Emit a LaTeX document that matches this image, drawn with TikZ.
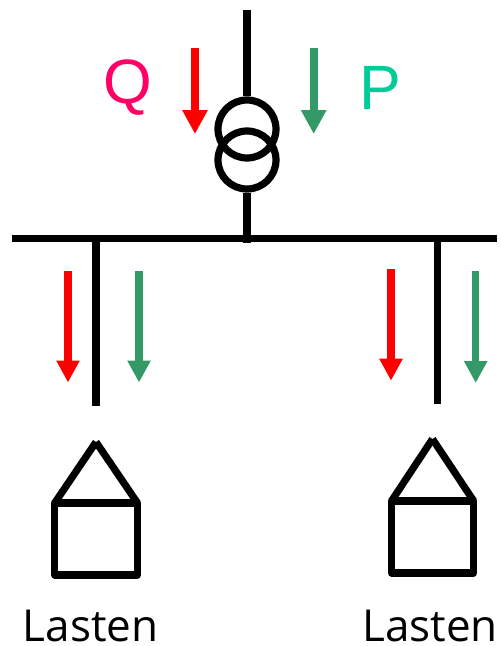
\documentclass[tikz,border=0pt]{standalone}
\usepackage{fontspec}
\setmainfont{Liberation Sans}
\newfontfamily\lastenfont{Open Sans}
\usetikzlibrary{arrows.meta}
\definecolor{qred}{RGB}{255,0,0}
\definecolor{pgreen}{RGB}{51,153,102}
\definecolor{qlabel}{RGB}{255,0,102}
\definecolor{plabel}{RGB}{0,204,153}
\tikzset{
  x=0.75pt,y=-0.75pt,
  wire/.style={line width=5.4pt,black},
  flow/.style={line width=6pt,-{Triangle[length=18pt,width=18pt]}},
  flowsmall/.style={line width=5.5pt,-{Triangle[length=16.5pt,width=16.5pt]}},
  houseline/.style={line width=5.4pt,black,line join=round},
  big/.style={inner sep=0pt,font=\fontsize{47}{47}\selectfont},
  caption/.style={inner sep=0pt,anchor=base,font=\lastenfont\fontsize{33}{33}\selectfont},
}
\begin{document}
\begin{tikzpicture}
\useasboundingbox (0,0) rectangle (500,646);
\coordinate (top) at (247,10);
\coordinate (busL) at (12,238.5);
\coordinate (busR) at (497,238.5);
\coordinate (busT) at (247,243);
\coordinate (dropLa) at (96,240);
\coordinate (dropLb) at (96,406);
\coordinate (dropRa) at (437.7,240);
\coordinate (dropRb) at (437.7,404);
\node[draw,circle,line width=5.4pt,minimum size=43.5pt,inner sep=0pt] (t1) at (247,129) {};
\node[draw,circle,line width=5.4pt,minimum size=43.5pt,inner sep=0pt] (t2) at (247,160) {};
\draw[wire] (top) -- (t1.north);
\draw[wire] (t2.south) -- (busT);
\draw[wire] (busL) -- (busR);
\draw[wire] (dropLa) -- (dropLb);
\draw[wire] (dropRa) -- (dropRb);
% flows
\coordinate (qa) at (195,48); \coordinate (qb) at (195,134);
\coordinate (pa) at (313.7,48); \coordinate (pb) at (313.7,134);
\draw[flow,qred] (qa) -- (qb);
\draw[flow,pgreen] (pa) -- (pb);
\coordinate (a1) at (68,271); \coordinate (a2) at (68,382.5);
\coordinate (b1) at (139,271); \coordinate (b2) at (139,382.5);
\coordinate (c1) at (391,269); \coordinate (c2) at (391,380.7);
\coordinate (d1) at (475.7,271); \coordinate (d2) at (475.7,383);
\draw[flowsmall,qred] (a1) -- (a2);
\draw[flowsmall,pgreen] (b1) -- (b2);
\draw[flowsmall,qred] (c1) -- (c2);
\draw[flowsmall,pgreen] (d1) -- (d2);
\node[big,text=qlabel] (q) at (128,88) {Q};
\node[big,text=plabel] (p) at (380,88) {P};
% houses
\draw[houseline] (54.7,503) rectangle (137.5,575);
\draw[houseline,line cap=butt] (54.7,503) -- (96,442);
\draw[houseline,line cap=butt] (137.5,503) -- (96,442);
\draw[houseline] (391.5,501) rectangle (473.7,573);
\draw[houseline,line cap=butt] (391.5,501) -- (432.5,439);
\draw[houseline,line cap=butt] (473.7,501) -- (432.5,439);
\node[caption] (l1) at (90.5,641) {Lasten};
\node[caption] (l2) at (430,641) {Lasten};
\end{tikzpicture}
\end{document}
